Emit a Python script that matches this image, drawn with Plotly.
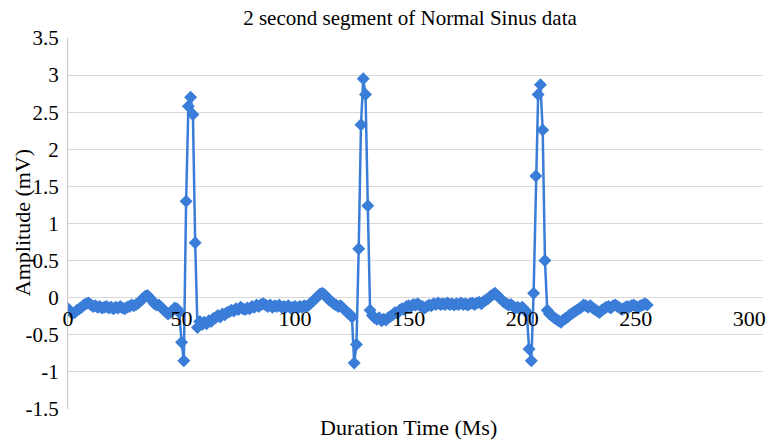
import plotly.graph_objects as go

# ---- data ----
title_text = "2 second segment of Normal Sinus data"
x_title = "Duration Time (Ms)"
y_title = "Amplitude (mV)"

amplitude_mv = [
    # 0-49
    -0.15, -0.18, -0.21, -0.20, -0.17, -0.15, -0.13, -0.10, -0.08, -0.07,
    -0.09, -0.12, -0.11, -0.13, -0.12, -0.14, -0.13, -0.12, -0.14, -0.13,
    -0.15, -0.13, -0.14, -0.12, -0.14, -0.15, -0.13, -0.12, -0.10, -0.11,
    -0.09, -0.07, -0.04, -0.01, 0.02, 0.03, 0.00, -0.04, -0.08, -0.10,
    -0.10, -0.13, -0.16, -0.19, -0.22, -0.20, -0.17, -0.14, -0.15, -0.20,
    # 50-57 beat 1
    -0.60, -0.85, 1.30, 2.58, 2.70, 2.47, 0.74, -0.40,
    # 58-125
    -0.32, -0.36, -0.33, -0.35, -0.31, -0.32, -0.28, -0.27, -0.24, -0.26,
    -0.22, -0.23, -0.20, -0.19, -0.17, -0.18, -0.15, -0.16, -0.13, -0.15,
    -0.16, -0.14, -0.15, -0.12, -0.13, -0.10, -0.12, -0.09, -0.08, -0.10,
    -0.12, -0.10, -0.13, -0.11, -0.12, -0.10, -0.13, -0.12, -0.13, -0.11,
    -0.14, -0.13, -0.12, -0.14, -0.12, -0.13, -0.11, -0.12, -0.10, -0.07,
    -0.04, -0.01, 0.02, 0.05, 0.06, 0.04, 0.00, -0.03, -0.05, -0.08,
    -0.10, -0.12, -0.11, -0.14, -0.17, -0.20, -0.22, -0.26,
    # 126-133 beat 2
    -0.88, -0.63, 0.66, 2.33, 2.95, 2.74, 1.24, -0.17,
    # 134-202
    -0.24, -0.27, -0.29, -0.27, -0.31, -0.29, -0.30, -0.27, -0.25, -0.23,
    -0.20, -0.21, -0.17, -0.15, -0.16, -0.12, -0.11, -0.12, -0.09, -0.10,
    -0.08, -0.11, -0.12, -0.14, -0.12, -0.10, -0.11, -0.08, -0.09, -0.07,
    -0.09, -0.08, -0.09, -0.07, -0.09, -0.08, -0.10, -0.08, -0.09, -0.07,
    -0.09, -0.08, -0.10, -0.08, -0.07, -0.09, -0.07, -0.06, -0.08, -0.05,
    -0.03, -0.01, 0.02, 0.04, 0.06, 0.03, 0.00, -0.03, -0.06, -0.08,
    -0.10, -0.09, -0.12, -0.14, -0.13, -0.15, -0.13, -0.16, -0.20,
    # 203-211 beat 3
    -0.69, -0.85, 0.06, 1.64, 2.74, 2.87, 2.26, 0.50, -0.17,
    # 212-255
    -0.22, -0.24, -0.27, -0.29, -0.31, -0.33, -0.30, -0.28, -0.26, -0.23,
    -0.21, -0.19, -0.17, -0.15, -0.13, -0.10, -0.11, -0.13, -0.11, -0.14,
    -0.16, -0.18, -0.20, -0.17, -0.15, -0.13, -0.12, -0.14, -0.11, -0.10,
    -0.12, -0.14, -0.16, -0.14, -0.12, -0.13, -0.11, -0.10, -0.12, -0.13,
    -0.11, -0.10, -0.08, -0.10,
]
duration_ms = list(range(len(amplitude_mv)))

x_tickvals = [0, 50, 100, 150, 200, 250, 300]
x_ticktext = ["0", "50", "100", "150", "200", "250", "300"]
y_tickvals = [-1.5, -1, -0.5, 0, 0.5, 1, 1.5, 2, 2.5, 3, 3.5]
y_ticktext = ["-1.5", "-1", "-0.5", "0", "0.5", "1", "1.5", "2", "2.5", "3", "3.5"]

# ---- layout constants ----
W, H = 768, 441
ML, MR, MT, MB = 68, 2, 38, 32
PW = W - ML - MR
PH = H - MT - MB
X_RANGE = [0, 306]
Y_RANGE = [-1.5, 3.5]
FONT = "Liberation Serif"
BLUE = "#3a7dd8"


def px_to_paper_x(px):
    return (px - ML) / PW


def px_to_paper_y(py):
    return (H - MB - py) / PH


fig = go.Figure()
fig.add_trace(go.Scatter(
    x=duration_ms, y=amplitude_mv, mode="lines+markers",
    line=dict(color=BLUE, width=2.5),
    marker=dict(symbol="diamond", size=10, color=BLUE),
    showlegend=False, hoverinfo="x+y",
))

zero_pos = (0 - Y_RANGE[0]) / (Y_RANGE[1] - Y_RANGE[0])

fig.update_layout(
    width=W, height=H,
    margin=dict(l=ML, r=MR, t=MT, b=MB, pad=0),
    paper_bgcolor="white", plot_bgcolor="white",
    font=dict(family=FONT, color="black", size=21),
    title=dict(text=title_text, x=410 / W, xanchor="center",
               y=1 - 18 / H, yanchor="middle",
               font=dict(family=FONT, size=21, color="black")),
    xaxis=dict(
        range=X_RANGE, tickvals=x_tickvals, ticktext=x_ticktext,
        showgrid=False, zeroline=False, showline=False, ticks="",
        anchor="free", position=zero_pos,
        tickfont=dict(family=FONT, size=22, color="black"),
        ticklabeloverflow="allow", ticklabelstandoff=5,
    ),
    yaxis=dict(
        range=Y_RANGE, tickvals=y_tickvals, ticktext=y_ticktext,
        showgrid=True, gridcolor="#d9d9d9", gridwidth=1,
        zeroline=False, showline=True, linecolor="#c8c8c8", linewidth=1,
        ticks="", ticklabelstandoff=4,
        tickfont=dict(family=FONT, size=21, color="black"),
    ),
    annotations=[
        dict(text=x_title, xref="paper", yref="paper",
             x=px_to_paper_x(410), y=px_to_paper_y(428),
             xanchor="center", yanchor="middle", showarrow=False,
             font=dict(family=FONT, size=22, color="black")),
        dict(text=y_title, xref="paper", yref="paper",
             x=px_to_paper_x(22), y=px_to_paper_y(223),
             xanchor="center", yanchor="middle", showarrow=False,
             textangle=-90,
             font=dict(family=FONT, size=22, color="black")),
    ],
)

fig.write_html("out.html")
